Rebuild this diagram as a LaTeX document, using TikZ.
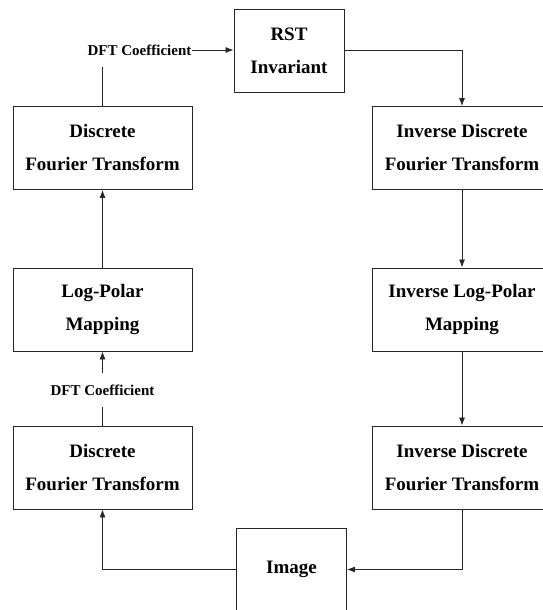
\documentclass[tikz,border=0pt]{standalone}
\usepackage{fontspec}
\setmainfont{Liberation Serif}
\usepackage{tikz}
\usetikzlibrary{arrows.meta,calc}

\begin{document}
\begin{tikzpicture}[
  x=1pt,y=-1pt,
  font=\fontsize{19}{33}\selectfont\bfseries,
  block/.style={draw=black!85,line width=0.9pt,align=center,minimum width=179pt,minimum height=83pt,inner sep=0pt},
  smallblock/.style={draw=black!85,line width=0.9pt,align=center,minimum width=110pt,minimum height=83pt,inner sep=0pt},
  coef/.style={font=\fontsize{15}{18}\selectfont\bfseries,inner xsep=0pt,inner ysep=11pt},
  arrow/.style={-{Latex[length=8pt,width=6pt]},line width=0.8pt,draw=black!85},
  link/.style={line width=0.8pt,draw=black!85}
]
\useasboundingbox (0,0) rectangle (543,610);

\node[smallblock] (rst) at (289,50.5) {RST\\Invariant};
\node[smallblock] (img) at (291.5,569.5) {Image};

\node[block] (dfttop) at (102.5,148) {Discrete\\Fourier Transform};
\node[block] (logpolar) at (102.5,309.5) {Log-Polar\\Mapping};
\node[block] (dftbot) at (102.5,467.5) {Discrete\\Fourier Transform};

\node[block] (idfttop) at (462,148) {Inverse Discrete\\Fourier Transform};
\node[block] (ilogpolar) at (462,309.5) {Inverse Log-Polar\\Mapping};
\node[block] (idftbot) at (462,467.5) {Inverse Discrete\\Fourier Transform};

\node[coef] (coeftop) at (139.5,50) {DFT Coefficient};
\node[coef] (coefbot) at (102.5,390) {DFT Coefficient};

% forward path
\draw[arrow] (img.west) -| (dftbot.south);
\draw[link] (dftbot.north) -- (coefbot.south);
\draw[arrow] (coefbot.north) -- (logpolar.south);
\draw[arrow] (logpolar.north) -- (dfttop.south);
\draw[link] (dfttop.north) -- (dfttop.north |- coeftop.south);
\draw[arrow] (coeftop.east) -- (coeftop.east -| rst.west);

% inverse path
\draw[arrow] (rst.east) -| (idfttop.north);
\draw[arrow] (idfttop.south) -- (ilogpolar.north);
\draw[arrow] (ilogpolar.south) -- (idftbot.north);
\draw[arrow] (idftbot.south) |- (img.east);
\end{tikzpicture}
\end{document}
